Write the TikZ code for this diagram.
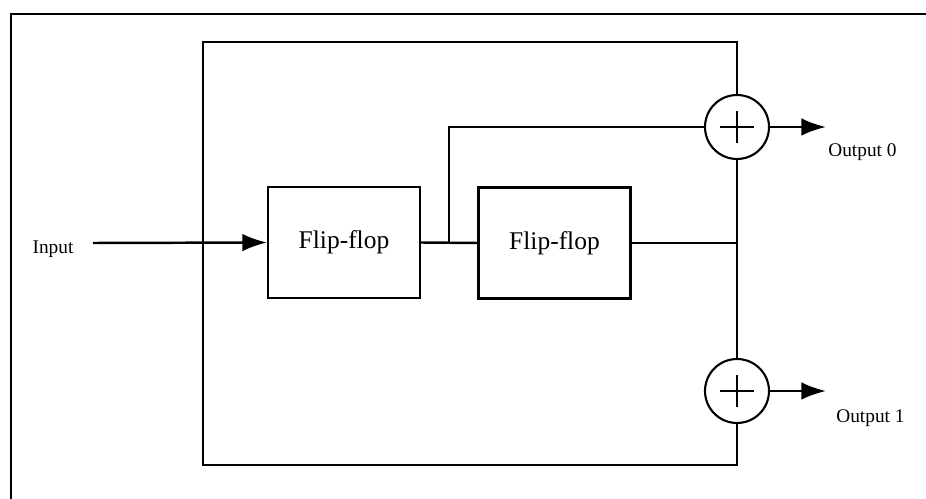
\documentclass[tikz,border=0pt]{standalone}
\usepackage{fontspec}
\setmainfont{Liberation Serif}
\usetikzlibrary{arrows.meta}
\begin{document}
\begin{tikzpicture}[x=0.02cm,y=-0.02cm,
  wire/.style={line width=1.4pt},
  arr/.style={wire,-{Latex[length=14pt,width=10pt]}},
  ffbox/.style={draw,line width=1.2pt,minimum width=3.04cm,minimum height=2.22cm,inner sep=0pt,font=\fontsize{14.5}{16}\selectfont},
  adder/.style={draw,circle,line width=1.2pt,minimum size=1.28cm,inner sep=0pt},
  lbl/.style={font=\fontsize{11}{13}\selectfont,inner sep=0pt}]
\useasboundingbox (0,0) rectangle (926,499);
% outer frame
\coordinate (ftr) at (926,14);
\coordinate (ftl) at (11,14);
\coordinate (fbl) at (11,499);
\draw[line width=1.5pt] (ftr) -- (ftl) -- (fbl);
% nodes
\node[ffbox] (ff1) at (344,242.5) {Flip-flop};
\node[ffbox] (ff2) at (554.5,243) {Flip-flop};
\node[adder] (add0) at (737,127) {};
\node[adder] (add1) at (737,391) {};
\foreach \a in {add0,add1}{
  \draw[line width=1pt] ([xshift=-0.34cm]\a.center) -- ([xshift=0.34cm]\a.center);
  \draw[line width=1pt] ([yshift=-0.32cm]\a.center) -- ([yshift=0.32cm]\a.center);
}
\node[lbl] (in) at (53,249) {Input};
\node[lbl,anchor=west] (out0) at (828,152) {Output 0};
\node[lbl,anchor=west] (out1) at (836,418) {Output 1};
% coordinates
\coordinate (inStart) at (93,243);
\coordinate (j) at (449,243);
\coordinate (tl) at (203,42);
\coordinate (bl) at (203,465);
\coordinate (o0) at (826,127);
\coordinate (o1) at (826,391);
% inner box
\draw[wire] (add0.north) |- (tl) -- (bl) -| (add1.south);
% connections
\draw[arr] (inStart) -- (ff1.west);
\draw[wire] (ff1.east) -- (ff2.west);
\draw[wire] (j) |- (add0.west);
\draw[wire] (ff2.east) -- (ff2.east -| add0.center);
\draw[wire] (add0.south) -- (add1.north);
\draw[arr] (add0.east) -- (o0);
\draw[arr] (add1.east) -- (o1);
\end{tikzpicture}
\end{document}
